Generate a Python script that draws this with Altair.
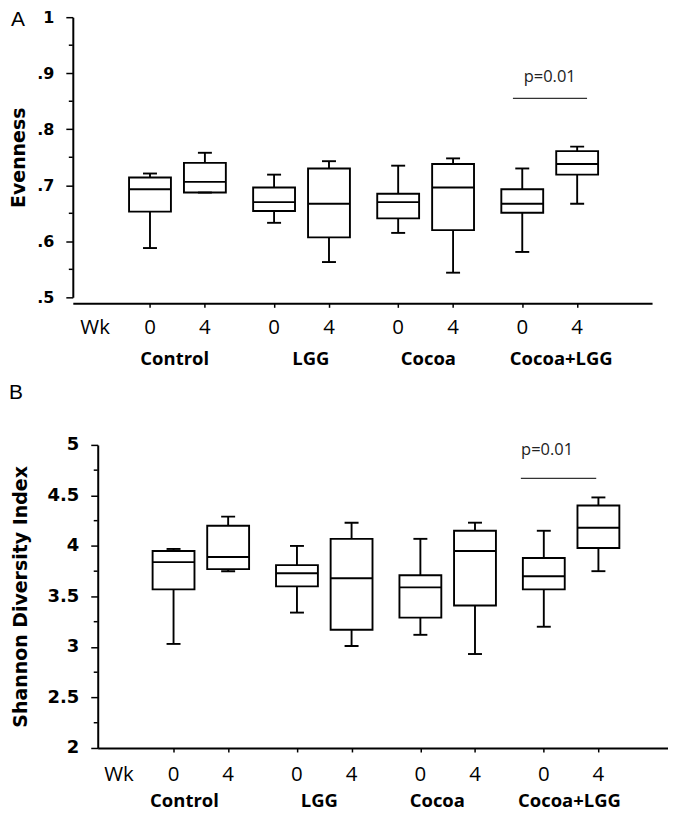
import altair as alt
import pandas as pd

# ---------------- data ----------------
GROUPS = ["Control", "LGG", "Cocoa", "Cocoa+LGG"]
WEEKS = ["0", "4"]

# order: Control wk0, Control wk4, LGG wk0, LGG wk4, Cocoa wk0, Cocoa wk4, Cocoa+LGG wk0, Cocoa+LGG wk4
EVEN_LOW = [0.588, 0.687, 0.633, 0.563, 0.615, 0.544, 0.581, 0.667]
EVEN_Q1 = [0.653, 0.687, 0.654, 0.607, 0.641, 0.620, 0.651, 0.719]
EVEN_MED = [0.693, 0.706, 0.670, 0.667, 0.670, 0.696, 0.667, 0.738]
EVEN_Q3 = [0.714, 0.740, 0.696, 0.730, 0.685, 0.738, 0.693, 0.761]
EVEN_HIGH = [0.721, 0.758, 0.719, 0.743, 0.735, 0.748, 0.730, 0.769]

SHAN_LOW = [3.03, 3.75, 3.34, 3.01, 3.12, 2.93, 3.20, 3.75]
SHAN_Q1 = [3.57, 3.77, 3.60, 3.17, 3.29, 3.41, 3.57, 3.98]
SHAN_MED = [3.84, 3.89, 3.73, 3.68, 3.59, 3.95, 3.70, 4.18]
SHAN_Q3 = [3.95, 4.20, 3.81, 4.07, 3.71, 4.15, 3.88, 4.40]
SHAN_HIGH = [3.97, 4.29, 4.00, 4.23, 4.07, 4.23, 4.15, 4.48]

EVEN_TICKS = [0.5, 0.6, 0.7, 0.8, 0.9, 1.0]
EVEN_MINOR = [0.55, 0.65, 0.75, 0.85, 0.95]
SHAN_TICKS = [2, 2.5, 3, 3.5, 4, 4.5, 5]
SHAN_MINOR = [2.25, 2.75, 3.25, 3.75, 4.25, 4.75]

P_LABEL = "p=0.01"
EVEN_P = {"x1": 7.61, "x2": 8.96, "y": 0.855, "tx": 8.28, "ty": 0.8925}
SHAN_P = {"x1": 7.36, "x2": 8.74, "y": 4.669, "tx": 7.84, "ty": 4.951}

# small horizontal nudges (in x units) of the group names, as placed in the figure
EVEN_NUDGE = [-0.05, 0.17, 0.05, 0.21]
SHAN_NUDGE = [-0.30, -0.09, -0.19, -0.03]

GROUP_STEP = 2.26  # distance between the first boxes of two adjacent groups (x units)

BLACK = "black"
LW = 1.9


def box_positions():
    pos, grp, wk = [], [], []
    for gi, g in enumerate(GROUPS):
        for wi, w in enumerate(WEEKS):
            pos.append(1 + gi * GROUP_STEP + wi)
            grp.append(g)
            wk.append(w)
    return pos, grp, wk


def panel(low, q1, med, q3, high, ticks, minor, y_title, letter, label_expr,
          xdomain, width, height, x_offset, label_font, title_pad,
          letter_xy, lab_dy, grp_dy, nudge, pinfo):
    pos, grp, wk = box_positions()
    df = pd.DataFrame({"pos": pos, "group": grp, "week": wk, "low": low,
                       "q1": q1, "med": med, "q3": q3, "high": high})
    xs = alt.Scale(domain=xdomain, nice=False, zero=False)
    ys = alt.Scale(domain=[ticks[0], ticks[-1]], nice=False, zero=False)

    x_axis = alt.Axis(values=pos, labels=False, title=None, grid=False,
                      tickSize=4, tickWidth=1.5, tickColor=BLACK,
                      domainWidth=2, domainColor=BLACK, offset=x_offset)
    y_axis = alt.Axis(values=ticks, title=y_title, grid=False, labelExpr=label_expr,
                      tickSize=7, tickWidth=1.5, tickColor=BLACK,
                      domainWidth=2, domainColor=BLACK,
                      labelFont="DejaVu Sans", labelFontWeight="bold",
                      labelFontSize=label_font, labelColor=BLACK, labelPadding=12,
                      titleFont="DejaVu Sans", titleFontWeight="bold",
                      titleFontSize=19, titleColor=BLACK, titlePadding=title_pad)

    def X(f):
        return alt.X(f, scale=xs, axis=x_axis)

    def Y(f):
        return alt.Y(f, scale=ys, axis=y_axis)

    base = alt.Chart(df)
    whisk = base.mark_rule(color=BLACK, strokeWidth=LW).encode(
        x=X("pos:Q"), y=Y("low:Q"), y2="high:Q",
    )
    boxes = base.mark_bar(size=42, fill="white", stroke=BLACK, strokeWidth=LW,
                          opacity=1).encode(
        x=X("pos:Q"), y=Y("q1:Q"), y2="q3:Q",
    )
    meds = base.mark_tick(orient="horizontal", size=42, thickness=LW, color=BLACK,
                          opacity=1).encode(
        x=X("pos:Q"), y=Y("med:Q"),
    )
    cap_hi = base.mark_tick(orient="horizontal", size=14, thickness=LW, color=BLACK,
                            opacity=1).encode(
        x=X("pos:Q"), y=Y("high:Q"),
    )
    cap_lo = base.mark_tick(orient="horizontal", size=14, thickness=LW, color=BLACK,
                            opacity=1).encode(
        x=X("pos:Q"), y=Y("low:Q"),
    )

    minor_df = pd.DataFrame({"v": minor})
    minor_ticks = alt.Chart(minor_df).mark_rule(color=BLACK, strokeWidth=1.5).encode(
        y=Y("v:Q"), x=alt.value(-4), x2=alt.value(0),
    )

    wk_df = pd.DataFrame({"pos": [0] + pos, "t": ["Wk"] + wk})
    wk_text = alt.Chart(wk_df).mark_text(
        font="Open Sans", fontSize=20.5, color=BLACK, baseline="middle", align="center"
    ).encode(x=X("pos:Q"), y=alt.value(height + lab_dy), text="t:N")

    gpos = [pos[2 * i] + 0.5 + nudge[i] for i in range(len(GROUPS))]
    g_df = pd.DataFrame({"pos": gpos, "t": GROUPS})
    g_text = alt.Chart(g_df).mark_text(
        font="Open Sans", fontSize=18.5, fontWeight="bold", color=BLACK,
        baseline="middle", align="center"
    ).encode(x=X("pos:Q"), y=alt.value(height + grp_dy), text="t:N")

    br_df = pd.DataFrame({"x1": [pinfo["x1"]], "x2": [pinfo["x2"]], "y": [pinfo["y"]]})
    bracket = alt.Chart(br_df).mark_rule(color="#333333", strokeWidth=1.2).encode(
        x=X("x1:Q"), x2="x2:Q", y=Y("y:Q"),
    )
    p_df = pd.DataFrame({"x": [pinfo["tx"]], "y": [pinfo["ty"]], "t": [P_LABEL]})
    p_text = alt.Chart(p_df).mark_text(
        font="Open Sans", fontSize=16.5, color="#222222", baseline="middle", align="center"
    ).encode(x=X("x:Q"), y=Y("y:Q"), text="t:N")

    let_df = pd.DataFrame({"t": [letter]})
    let_text = alt.Chart(let_df).mark_text(
        font="Liberation Sans", fontSize=21, color=BLACK, baseline="middle", align="left"
    ).encode(x=alt.value(letter_xy[0]), y=alt.value(letter_xy[1]), text="t:N")

    return alt.layer(whisk, boxes, meds, cap_hi, cap_lo, minor_ticks, wk_text,
                     g_text, bracket, p_text, let_text).properties(width=width, height=height)


def spacer():
    return alt.Chart(pd.DataFrame({"s": [0]})).mark_point(
        size=0, opacity=0, strokeWidth=0
    ).encode(x=alt.value(0), y=alt.value(0)).properties(width=1, height=1)


A_W, A_H = 581, 281
B_W, B_H = 572, 304

panel_a = panel(EVEN_LOW, EVEN_Q1, EVEN_MED, EVEN_Q3, EVEN_HIGH, EVEN_TICKS, EVEN_MINOR,
                "Evenness", "A",
                "datum.value >= 0.999 ? '1' : replace(format(datum.value, '.1f'), '0.', '.')",
                [-0.315, 10.053], A_W, A_H, 6, 16, 8,
                (-62, 3), 31, 61.5, EVEN_NUDGE, EVEN_P)

panel_b = panel(SHAN_LOW, SHAN_Q1, SHAN_MED, SHAN_Q3, SHAN_HIGH, SHAN_TICKS, SHAN_MINOR,
                "Shannon Diversity Index", "B",
                "format(datum.value, '~g')",
                [-0.297, 9.963], B_W, B_H, 0, 18, 17,
                (-89, -52), 27, 53, SHAN_NUDGE, SHAN_P)

row_a = alt.hconcat(spacer(), panel_a, spacing=0)
row_b = alt.hconcat(spacer(), panel_b, spacing=0)

chart = alt.vconcat(row_a, row_b, spacing=14).properties(
    padding=0, background="white"
).configure_view(strokeWidth=0)

chart.save("out.html", embed_options={"renderer": "svg", "actions": False})
